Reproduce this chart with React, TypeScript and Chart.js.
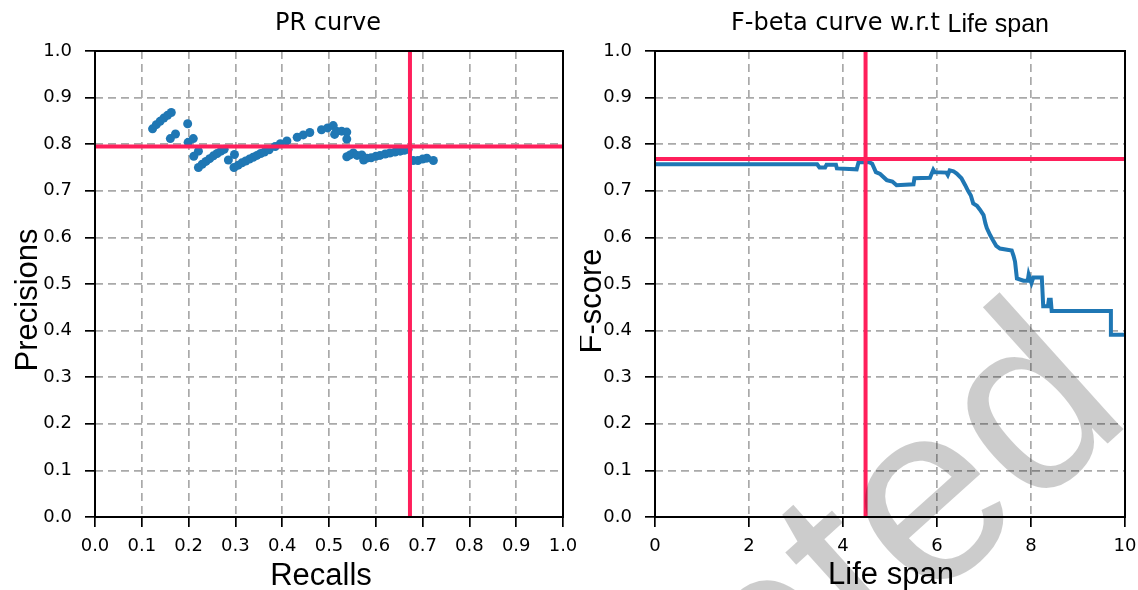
import React, { useEffect, useRef } from 'react';
import { Chart, registerables } from 'chart.js';

Chart.register(...registerables);

// ---------------- data ----------------
const recalls = [
  0.123, 0.131, 0.139, 0.147, 0.155, 0.163,
  0.161, 0.172,
  0.198, 0.199, 0.210, 0.221, 0.211,
  0.221, 0.229, 0.237, 0.245, 0.253, 0.261, 0.269, 0.276,
  0.285, 0.298, 0.297,
  0.306, 0.314, 0.322, 0.330, 0.338, 0.346, 0.354, 0.362, 0.372, 0.385, 0.396, 0.410,
  0.432, 0.445, 0.459, 0.484, 0.497, 0.509, 0.516, 0.512, 0.527, 0.538, 0.538, 0.538,
  0.545, 0.552, 0.560, 0.570, 0.574, 0.581, 0.590, 0.600, 0.609, 0.620, 0.630, 0.641, 0.652, 0.661, 0.669,
  0.680, 0.690, 0.700, 0.709, 0.723,
];
const precisions = [
  0.833, 0.842, 0.849, 0.856, 0.862, 0.868,
  0.812, 0.822,
  0.844, 0.804, 0.812, 0.785, 0.774,
  0.750, 0.757, 0.763, 0.769, 0.775, 0.780, 0.785, 0.789,
  0.766, 0.778, 0.750,
  0.755, 0.760, 0.764, 0.768, 0.772, 0.776, 0.780, 0.783, 0.788, 0.795, 0.801, 0.807,
  0.815, 0.820, 0.825, 0.831, 0.835, 0.840, 0.828, 0.821, 0.828, 0.826, 0.811, 0.773,
  0.777, 0.781, 0.776, 0.777, 0.766, 0.770, 0.771, 0.774, 0.776, 0.779, 0.781, 0.783, 0.785, 0.787, 0.789,
  0.765, 0.765, 0.768, 0.770, 0.765,
];
const prBestRecall = 0.673;
const prBestPrecision = 0.795;

const lifeSpans = [
  0, 3.45, 3.5, 3.62, 3.65, 3.85, 3.87, 4.29, 4.33, 4.55, 4.62, 4.70, 4.79, 4.93, 5.05, 5.14,
  5.5, 5.52, 5.85, 5.92, 5.95, 6.2, 6.23, 6.27, 6.35, 6.42, 6.52, 6.6, 6.66, 6.72, 6.77, 6.85,
  6.91, 6.99, 7.03, 7.06, 7.13, 7.2, 7.26, 7.34, 7.59, 7.63, 7.66, 7.70, 7.84, 7.93, 7.95, 7.98,
  8.01, 8.05, 8.23, 8.26, 8.36, 8.38, 8.42, 8.44, 9.70, 9.70, 10,
];
const fScores = [
  0.757, 0.757, 0.750, 0.750, 0.756, 0.756, 0.748, 0.746, 0.761, 0.762, 0.758, 0.740, 0.736, 0.723, 0.720, 0.712,
  0.714, 0.727, 0.728, 0.745, 0.740, 0.739, 0.734, 0.744, 0.742, 0.737, 0.727, 0.712, 0.700, 0.690, 0.673, 0.668,
  0.660, 0.648, 0.630, 0.620, 0.605, 0.592, 0.582, 0.576, 0.572, 0.560, 0.548, 0.512, 0.507, 0.507, 0.520, 0.510,
  0.502, 0.514, 0.514, 0.452, 0.452, 0.466, 0.466, 0.442, 0.442, 0.391, 0.391,
];
const fBestLife = 4.48;
const fBestScore = 0.768;

const prTickLabels = ['0.0', '0.1', '0.2', '0.3', '0.4', '0.5', '0.6', '0.7', '0.8', '0.9', '1.0'];
const lifeTickLabels = ['0', '2', '4', '6', '8', '10'];

// ---------------- styles ----------------
const BLUE = '#1f77b4';
const RED = '#ff1f5b';
const GRID = '#a9a9a9';
const TICK_FONT = { family: '"DejaVu Sans", sans-serif', size: 18 };

function axisCommon(afterFit: (s: any) => void, stepSize: number, labels: string[], padding: number) {
  return {
    type: 'linear' as const,
    afterFit,
    ticks: {
      stepSize,
      autoSkip: false,
      maxRotation: 0,
      minRotation: 0,
      color: '#000',
      font: TICK_FONT,
      padding,
      callback: (_v: any, i: number) => labels[i],
    },
    grid: {
      color: GRID,
      lineWidth: 1.7,
      drawTicks: true,
      tickLength: 10,
      tickColor: '#000',
      tickWidth: 1.7,
      tickBorderDash: [],
    },
    border: { display: false, dash: [8, 5] },
  };
}

const fitX = (h: number) => (s: any) => {
  s.height = h;
  s.paddingLeft = 0;
  s.paddingRight = 0;
};
const fitY = (w: number) => (s: any) => {
  s.width = w;
  s.paddingTop = 0;
  s.paddingBottom = 0;
};

const framePlugin = {
  id: 'frame',
  afterDraw(chart: any) {
    const { ctx, chartArea: a } = chart;
    ctx.save();
    ctx.strokeStyle = '#000';
    ctx.lineWidth = 2;
    ctx.setLineDash([]);
    ctx.strokeRect(a.left, a.top, a.right - a.left, a.bottom - a.top);
    ctx.restore();
  },
};

function makeTextPlugin(kind: 'pr' | 'f') {
  return {
    id: 'texts_' + kind,
    afterDraw(chart: any) {
      const ctx = chart.ctx as CanvasRenderingContext2D;
      ctx.save();
      ctx.fillStyle = '#000';
      ctx.textBaseline = 'alphabetic';
      if (kind === 'pr') {
        ctx.font = '24px "DejaVu Sans"';
        ctx.textAlign = 'center';
        ctx.fillText('PR curve', 328, 30);
        ctx.font = '31px "Liberation Sans"';
        ctx.fillText('Recalls', 321, 585);
        ctx.save();
        ctx.translate(37, 300);
        ctx.rotate(-Math.PI / 2);
        ctx.fillText('Precisions', 0, 0);
        ctx.restore();
      } else {
        const part1 = 'F-beta curve w.r.t ';
        const part2 = 'Life span';
        ctx.font = '24px "DejaVu Sans"';
        const w1 = ctx.measureText(part1).width;
        ctx.font = '25px "Liberation Sans"';
        const w2 = ctx.measureText(part2).width;
        const start = 310 - (w1 + w2) / 2;
        ctx.textAlign = 'left';
        ctx.font = '24px "DejaVu Sans"';
        ctx.fillText(part1, start, 30);
        ctx.font = '25px "Liberation Sans"';
        ctx.fillText(part2, start + w1, 32);
        ctx.textAlign = 'center';
        ctx.font = '31px "Liberation Sans"';
        ctx.fillText('Life span', 311, 584);
        ctx.save();
        ctx.translate(21, 301);
        ctx.rotate(-Math.PI / 2);
        ctx.fillText('F-score', 0, 0);
        ctx.restore();
        // watermark
        ctx.save();
        ctx.fillStyle = 'rgba(0,0,0,0.2)';
        ctx.font = '255px "Liberation Sans"';
        ctx.textAlign = 'right';
        ctx.translate(1136 - 580, 418);
        ctx.rotate((-42 * Math.PI) / 180);
        ctx.fillText('Accepted', 0, 0);
        ctx.restore();
      }
      ctx.restore();
    },
  };
}

function PRChart() {
  const ref = useRef<HTMLCanvasElement | null>(null);
  useEffect(() => {
    if (!ref.current) return;
    const chart = new Chart(ref.current, {
      type: 'scatter',
      data: {
        datasets: [
          {
            type: 'line',
            data: [{ x: 0, y: prBestPrecision }, { x: 1, y: prBestPrecision }],
            borderColor: RED,
            borderWidth: 4,
            pointRadius: 0,
            order: 0,
          } as any,
          {
            type: 'line',
            data: [{ x: prBestRecall, y: 0 }, { x: prBestRecall, y: 1 }],
            borderColor: RED,
            borderWidth: 4,
            pointRadius: 0,
            order: 0,
          } as any,
          {
            type: 'scatter',
            data: recalls.map((r, i) => ({ x: r, y: precisions[i] })),
            backgroundColor: BLUE,
            borderWidth: 0,
            pointRadius: 4.5,
            order: 1,
          },
        ],
      },
      options: {
        animation: false,
        responsive: false,
        events: [],
        layout: { padding: { top: 51, right: 17, left: 0, bottom: 0 } },
        plugins: { legend: { display: false }, tooltip: { enabled: false }, title: { display: false } },
        scales: {
          x: { ...axisCommon(fitX(73), 0.1, prTickLabels, 9), min: 0, max: 1 },
          y: { ...axisCommon(fitY(95), 0.1, prTickLabels, 13), min: 0, max: 1 },
        },
      } as any,
      plugins: [framePlugin, makeTextPlugin('pr')],
    });
    return () => chart.destroy();
  }, []);
  return <canvas ref={ref} width={580} height={590} style={{ position: 'absolute', left: 0, top: 0, width: 580, height: 590 }} />;
}

function FChart() {
  const ref = useRef<HTMLCanvasElement | null>(null);
  useEffect(() => {
    if (!ref.current) return;
    const chart = new Chart(ref.current, {
      type: 'line',
      data: {
        datasets: [
          {
            data: [{ x: 0, y: fBestScore }, { x: 10, y: fBestScore }],
            borderColor: RED,
            borderWidth: 4,
            pointRadius: 0,
            order: 0,
          },
          {
            data: [{ x: fBestLife, y: 0 }, { x: fBestLife, y: 1 }],
            borderColor: RED,
            borderWidth: 4,
            pointRadius: 0,
            order: 0,
          },
          {
            data: lifeSpans.map((l, i) => ({ x: l, y: fScores[i] })),
            borderColor: BLUE,
            borderWidth: 4,
            pointRadius: 0,
            tension: 0,
            order: 1,
          },
        ],
      },
      options: {
        animation: false,
        responsive: false,
        events: [],
        layout: { padding: { top: 51, right: 13, left: 0, bottom: 0 } },
        plugins: { legend: { display: false }, tooltip: { enabled: false }, title: { display: false } },
        scales: {
          x: { ...axisCommon(fitX(73), 2, lifeTickLabels, 9), min: 0, max: 10 },
          y: { ...axisCommon(fitY(75), 0.1, prTickLabels, 13), min: 0, max: 1 },
        },
      } as any,
      plugins: [framePlugin, makeTextPlugin('f')],
    });
    return () => chart.destroy();
  }, []);
  return <canvas ref={ref} width={558} height={590} style={{ position: 'absolute', left: 580, top: 0, width: 558, height: 590 }} />;
}

export default function App() {
  return (
    <div style={{ position: 'absolute', left: 0, top: 0, width: 1138, height: 590, background: '#fff', overflow: 'hidden' }}>
      <PRChart />
      <FChart />
    </div>
  );
}
